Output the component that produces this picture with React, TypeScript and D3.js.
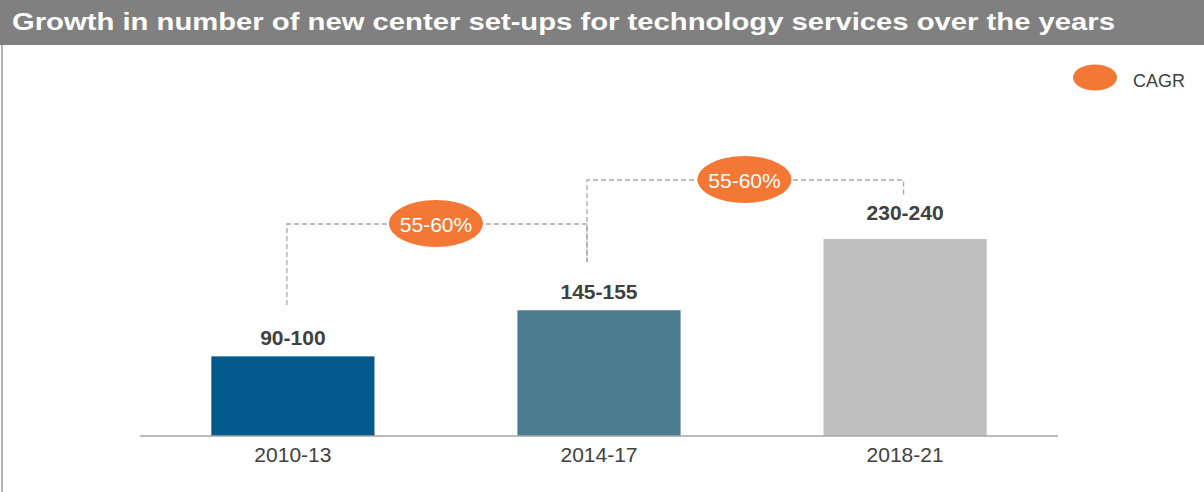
import React from "react";
import * as d3 from "d3";

const categories = ["2010-13", "2014-17", "2018-21"];
const values = [95, 150, 235];
const valueLabels = ["90-100", "145-155", "230-240"];
const barColors = ["#02598b", "#4b7b8e", "#bfbfbf"];
const cagrLabels = ["55-60%", "55-60%"];
const title = "Growth in number of new center set-ups for technology services over the years";

const W = 1204;
const H = 492;
const FONT = "'Liberation Sans', Arial, Helvetica, sans-serif";
const ORANGE = "#f37735";
const TEXT = "#404040";

export default function App() {
  const x = d3.scaleBand<string>().domain(categories).range([140, 1058]).paddingInner(0.467).paddingOuter(0.233);
  const y = d3.scaleLinear().domain([0, 235]).range([436, 239]);
  const bw = x.bandwidth();
  const cx = (c: string) => (x(c) as number) + bw / 2;
  const labelGap = (i: number) => (i === 2 ? 19 : 11);

  const connectors = [
    { x1: cx(categories[0]) - 6, y1: 305, yt: 224, x2: cx(categories[1]) - 12, y2: 262, ex: 436, ey: 223.5 },
    { x1: cx(categories[1]) - 12, y1: 262, yt: 180, x2: cx(categories[2]) - 1.5, y2: 197, ex: 744.5, ey: 179.5 },
  ];

  return (
    <svg width={W} height={H} style={{ position: "absolute", left: 0, top: 0, background: "#fff" }} fontFamily={FONT}>
      <rect x={0} y={0} width={W} height={45} fill="#808080" />
      <text x={12} y={30} fill="#fff" fontSize={24.5} fontWeight="bold" textLength={1103} lengthAdjust="spacingAndGlyphs">{title}</text>
      <rect x={1} y={45} width={2} height={H - 45} fill="#b0b0b0" />

      {connectors.map((c, i) => (
        <g key={i}>
          <path
            d={`M${c.x1},${c.y1}V${c.yt}H${c.x2}V${c.y2}`}
            fill="none"
            stroke="#a6a6a6"
            strokeWidth={1.3}
            strokeDasharray="5,3"
          />
          <ellipse cx={c.ex} cy={c.ey} rx={47} ry={23.5} fill={ORANGE} />
          <text x={c.ex} y={c.ey + 8} textAnchor="middle" fill="#fff" fontSize={21}>{cagrLabels[i]}</text>
        </g>
      ))}

      {categories.map((c, i) => (
        <g key={c}>
          <rect x={x(c)} y={y(values[i])} width={bw} height={y(0) - y(values[i])} fill={barColors[i]} />
          <text x={cx(c)} y={y(values[i]) - labelGap(i)} textAnchor="middle" fill={TEXT} fontSize={21} fontWeight="bold">{valueLabels[i]}</text>
          <text x={cx(c)} y={462} textAnchor="middle" fill={TEXT} fontSize={21}>{c}</text>
        </g>
      ))}

      <line x1={140} x2={1058} y1={436} y2={436} stroke="#a6a6a6" strokeWidth={1.5} />

      <ellipse cx={1095} cy={77.5} rx={22} ry={13} fill={ORANGE} />
      <text x={1133} y={87} fill={TEXT} fontSize={18}>CAGR</text>
    </svg>
  );
}
